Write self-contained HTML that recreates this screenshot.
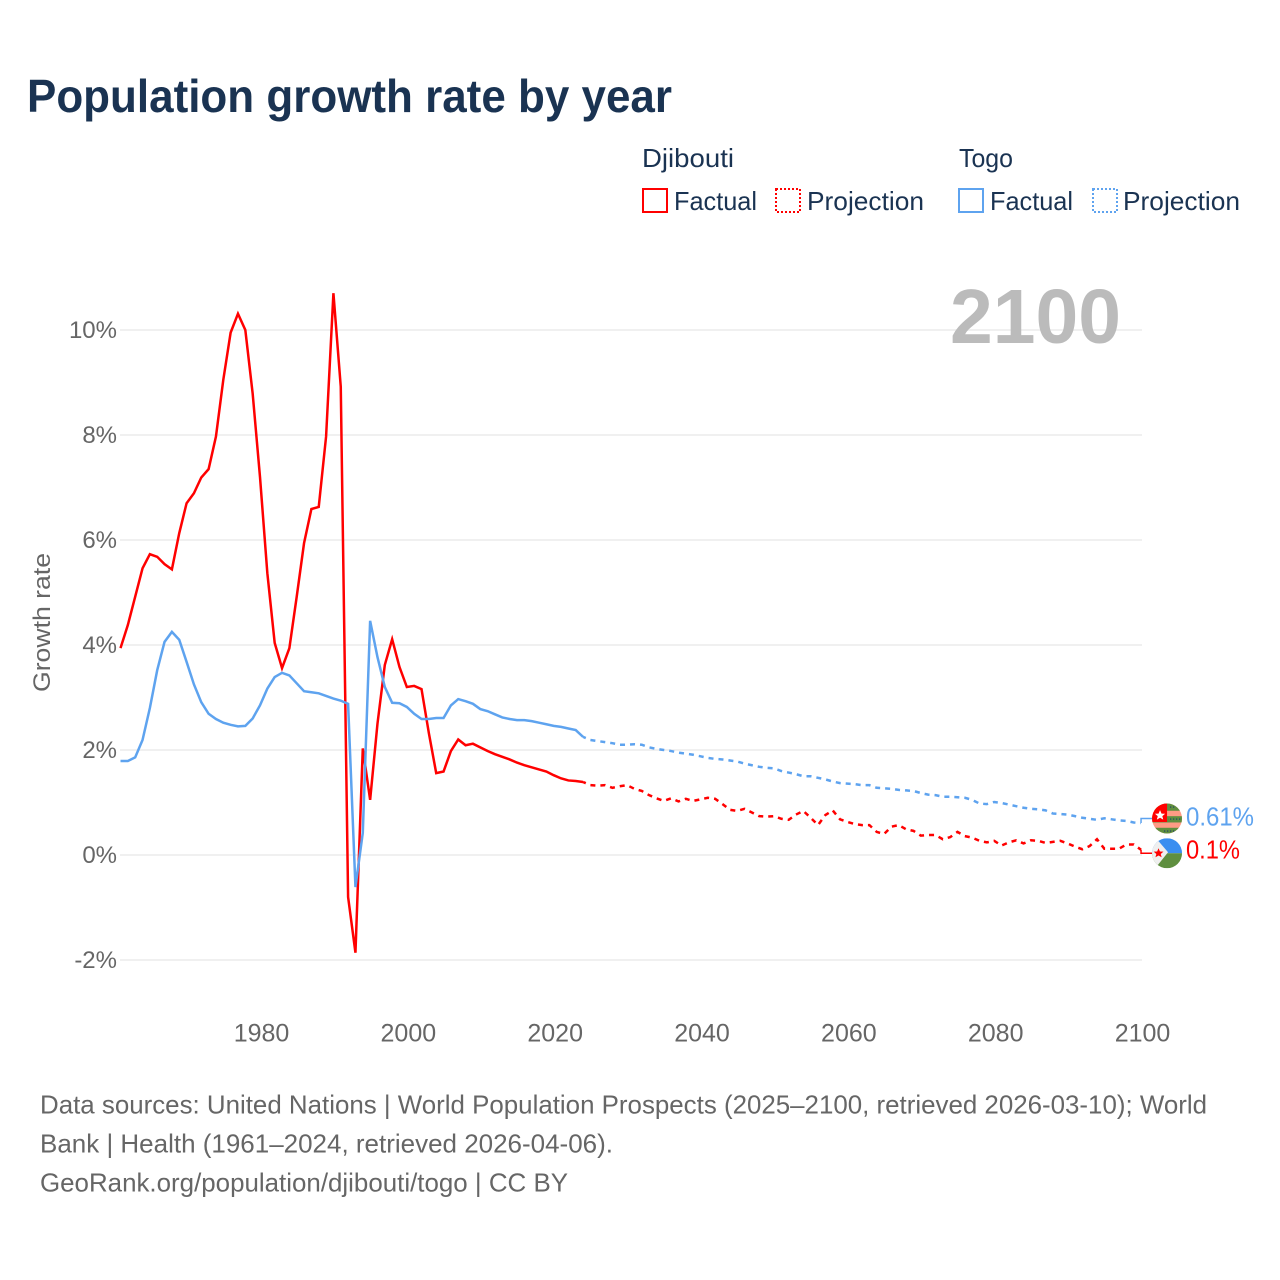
<!DOCTYPE html>
<html lang="en">
<head>
<meta charset="utf-8">
<title>Population growth rate by year</title>
<style>
html,body{margin:0;padding:0;background:#fff;}
svg{display:block;font-family:"Liberation Sans",sans-serif;}
</style>
</head>
<body>
<svg id="chart" xmlns="http://www.w3.org/2000/svg" width="1280" height="1280" viewBox="0 0 1280 1280">
  <rect x="0" y="0" width="1280" height="1280" fill="#ffffff"/>
  <text x="27" y="112" font-size="46" font-weight="700" fill="#1a3352" textLength="645" lengthAdjust="spacingAndGlyphs">Population growth rate by year</text>

  <g>
    <text x="642" y="167" font-size="26" fill="#1a3352" textLength="92" lengthAdjust="spacingAndGlyphs">Djibouti</text>
    <rect x="643" y="189" width="24" height="23" fill="none" stroke="#ff0000" stroke-width="2"/>
    <text x="674" y="210" font-size="26" fill="#1a3352" textLength="83" lengthAdjust="spacingAndGlyphs">Factual</text>
    <rect x="776" y="189" width="24" height="23" fill="none" stroke="#ff0000" stroke-width="2" stroke-dasharray="2 2"/>
    <text x="807" y="210" font-size="26" fill="#1a3352" textLength="117" lengthAdjust="spacingAndGlyphs">Projection</text>
    <text x="959" y="167" font-size="26" fill="#1a3352" textLength="54" lengthAdjust="spacingAndGlyphs">Togo</text>
    <rect x="959" y="189" width="24" height="23" fill="none" stroke="#5ea3ef" stroke-width="2"/>
    <text x="990" y="210" font-size="26" fill="#1a3352" textLength="83" lengthAdjust="spacingAndGlyphs">Factual</text>
    <rect x="1093" y="189" width="24" height="23" fill="none" stroke="#5ea3ef" stroke-width="2" stroke-dasharray="2 2"/>
    <text x="1123" y="210" font-size="26" fill="#1a3352" textLength="117" lengthAdjust="spacingAndGlyphs">Projection</text>
  </g>

  <g id="grid"></g>
  <text x="950" y="343" font-size="77" font-weight="700" fill="#bbbbbb" textLength="171" lengthAdjust="spacingAndGlyphs">2100</text>
  <g id="yTicksGroup"></g>
  <g id="xTicksGroup"></g>
  <text transform="translate(50,692) rotate(-90)" x="0" y="0" font-size="24" fill="#666666" textLength="139" lengthAdjust="spacingAndGlyphs">Growth rate</text>
  <g id="series"></g>

  <defs>
    <clipPath id="flagClip"><circle cx="0" cy="0" r="15"/></clipPath>
    <pattern id="dots" width="3" height="3" patternUnits="userSpaceOnUse">
      <rect width="1.2" height="1.2" fill="#1f3f6a"/>
    </pattern>
  </defs>

  <g id="flagTogo">
    <g clip-path="url(#flagClip)">
      <rect x="-15" y="-15" width="30" height="30" fill="#ff9b85"/>
      <rect x="-15" y="-15" width="30" height="7.3" fill="#5f8f3f"/>
      <rect x="-15" y="-2.3" width="30" height="6.3" fill="#5f8f3f"/>
      <rect x="-15" y="9.3" width="30" height="6" fill="#5f8f3f"/>
      <rect x="1" y="-1.5" width="14" height="4.5" fill="url(#dots)"/>
      <rect x="-4" y="10.5" width="12" height="3" fill="url(#dots)"/>
      <rect x="3" y="-13" width="6" height="4" fill="url(#dots)"/>
      <rect x="-15" y="-15" width="15" height="18.5" fill="#ff0000"/>
      <polygon points="-7,-8.3 -5.5,-4.9 -1.9,-4.7 -4.7,-2.3 -3.8,1.2 -7,-0.7 -10.2,1.2 -9.3,-2.3 -12.1,-4.7 -8.5,-4.9" fill="#ffffff"/>
    </g>
  </g>
  <g id="flagDjibouti">
    <g clip-path="url(#flagClip)">
      <rect x="-15" y="-15" width="30" height="15" fill="#3a8ef0"/>
      <rect x="-15" y="0" width="30" height="15" fill="#5f8f3f"/>
      <polygon points="-15,-17 -11,-15 1,-1 -11,14 -15,17" fill="#efefef"/>
      <polygon points="-8.5,-5 -7.1,-1.8 -3.6,-1.6 -6.3,0.7 -5.4,4 -8.5,2.2 -11.6,4 -10.7,0.7 -13.4,-1.6 -9.9,-1.8" fill="#ff0000"/>
    </g>
  </g>
  <text id="labelTogo" x="1186" y="825" font-size="26" fill="#5ea3ef" textLength="68" lengthAdjust="spacingAndGlyphs"></text>
  <text id="labelDjibouti" x="1186" y="859" font-size="26" fill="#ff0000" textLength="54" lengthAdjust="spacingAndGlyphs"></text>

  <g font-size="26" fill="#666666">
    <text x="40" y="1113.5" textLength="1167" lengthAdjust="spacingAndGlyphs">Data sources: United Nations | World Population Prospects (2025–2100, retrieved 2026-03-10); World</text>
    <text x="40" y="1152.5" textLength="573" lengthAdjust="spacingAndGlyphs">Bank | Health (1961–2024, retrieved 2026-04-06).</text>
    <text x="40" y="1191.5" textLength="528" lengthAdjust="spacingAndGlyphs">GeoRank.org/population/djibouti/togo | CC BY</text>
  </g>
</svg>

<script>
const yTickValues = [-2, 0, 2, 4, 6, 8, 10];
const xTickValues = [1980, 2000, 2020, 2040, 2060, 2080, 2100];

const factualYears = [1961,1962,1963,1964,1965,1966,1967,1968,1969,1970,
  1971,1972,1973,1974,1975,1976,1977,1978,1979,1980,
  1981,1982,1983,1984,1985,1986,1987,1988,1989,1990,
  1991,1992,1993,1994,1995,1996,1997,1998,1999,2000,
  2001,2002,2003,2004,2005,2006,2007,2008,2009,2010,
  2011,2012,2013,2014,2015,2016,2017,2018,2019,2020,
  2021,2022,2023,2024];

const djiboutiFactual = [3.94,4.38,4.92,5.46,5.73,5.68,5.54,5.44,6.13,6.70,
  6.89,7.19,7.35,7.97,9.05,9.95,10.31,10.00,8.79,7.20,
  5.37,4.04,3.56,3.94,4.92,5.94,6.59,6.63,7.97,10.70,
  8.92,-0.80,-1.86,2.03,1.05,2.50,3.62,4.11,3.58,3.20,
  3.22,3.16,2.32,1.56,1.59,1.98,2.20,2.09,2.12,2.05,
  1.98,1.92,1.87,1.82,1.76,1.71,1.67,1.63,1.59,1.52,
  1.46,1.42,1.41,1.39];

const togoFactual = [1.79,1.79,1.86,2.19,2.80,3.52,4.06,4.25,4.10,3.68,
  3.25,2.91,2.69,2.59,2.52,2.48,2.45,2.46,2.60,2.85,
  3.17,3.39,3.47,3.42,3.27,3.12,3.10,3.08,3.03,2.98,
  2.94,2.88,-0.61,0.42,4.46,3.77,3.20,2.90,2.89,2.82,
  2.69,2.59,2.59,2.61,2.61,2.85,2.97,2.93,2.88,2.78,
  2.74,2.68,2.62,2.59,2.57,2.57,2.55,2.52,2.49,2.46,
  2.44,2.41,2.38,2.25];

const projectionYears = [2024,2025,2026,2027,2028,2029,2030,
  2031,2032,2033,2034,2035,2036,2037,2038,2039,2040,
  2041,2042,2043,2044,2045,2046,2047,2048,2049,2050,
  2051,2052,2053,2054,2055,2056,2057,2058,2059,2060,
  2061,2062,2063,2064,2065,2066,2067,2068,2069,2070,
  2071,2072,2073,2074,2075,2076,2077,2078,2079,2080,
  2081,2082,2083,2084,2085,2086,2087,2088,2089,2090,
  2091,2092,2093,2094,2095,2096,2097,2098,2099,2100];

const djiboutiProjection = [1.39,1.33,1.32,1.33,1.28,1.31,1.33,
  1.26,1.22,1.14,1.08,1.03,1.08,1.02,1.07,1.03,1.06,
  1.09,1.07,0.97,0.86,0.84,0.88,0.81,0.74,0.73,0.74,
  0.69,0.67,0.77,0.84,0.71,0.57,0.76,0.85,0.68,0.63,
  0.59,0.57,0.57,0.44,0.40,0.54,0.57,0.49,0.46,0.37,
  0.38,0.38,0.30,0.34,0.44,0.36,0.33,0.27,0.24,0.27,
  0.18,0.24,0.28,0.22,0.28,0.27,0.23,0.25,0.27,0.22,
  0.16,0.11,0.17,0.30,0.12,0.12,0.12,0.20,0.20,0.10];

const togoProjection = [2.25,2.19,2.17,2.15,2.13,2.10,2.10,
  2.11,2.10,2.05,2.02,2.00,1.98,1.95,1.93,1.91,1.88,
  1.85,1.83,1.82,1.80,1.78,1.74,1.71,1.68,1.66,1.65,
  1.60,1.57,1.54,1.50,1.50,1.47,1.44,1.40,1.37,1.36,
  1.35,1.33,1.33,1.28,1.27,1.26,1.24,1.23,1.22,1.18,
  1.15,1.14,1.11,1.11,1.10,1.09,1.05,0.98,0.97,1.01,
  0.99,0.96,0.93,0.90,0.88,0.87,0.85,0.79,0.78,0.77,
  0.74,0.71,0.69,0.67,0.70,0.68,0.66,0.65,0.62,0.61];

const endValueDjibouti = ["0.1%"];
const endValueTogo = ["0.61%"];

const SVGNS = "http://www.w3.org/2000/svg";
function xScale(year){ return 260 + (year - 1980) * 7.342; }
function yScale(v){ return 855 - v * 52.5; }
function pathFrom(years, values){
  return years.map(function(yr, i){
    return (i ? "L" : "M") + xScale(yr).toFixed(2) + " " + yScale(values[i]).toFixed(2);
  }).join(" ");
}

const gridG = document.getElementById("grid");
const yG = document.getElementById("yTicksGroup");
yTickValues.forEach(function(v){
  const line = document.createElementNS(SVGNS, "line");
  
  
  line.setAttribute("x1", 120);
  line.setAttribute("x2", 1142);
  line.setAttribute("y1", yScale(v));
  line.setAttribute("y2", yScale(v));
  line.setAttribute("stroke", "#f0f0f0");
  line.setAttribute("stroke-width", "2");
  gridG.appendChild(line);
  const t = document.createElementNS(SVGNS, "text");
  
  
  t.setAttribute("x", 117);
  t.setAttribute("y", yScale(v) + 8);
  t.setAttribute("text-anchor", "end");
  t.setAttribute("font-size", "24");
  t.setAttribute("fill", "#666666");
  t.textContent = v + "%";
  yG.appendChild(t);
});

const xG = document.getElementById("xTicksGroup");
xTickValues.forEach(function(yr){
  const t = document.createElementNS(SVGNS, "text");
  
  
  t.setAttribute("x", xScale(yr) + 1.5);
  t.setAttribute("y", 1041.5);
  t.setAttribute("text-anchor", "middle");
  t.setAttribute("font-size", "25");
  t.setAttribute("fill", "#666666");
  t.textContent = yr;
  xG.appendChild(t);
});

const seriesG = document.getElementById("series");

const lineDjiboutiProj = document.createElementNS(SVGNS, "path");


lineDjiboutiProj.setAttribute("d", pathFrom(projectionYears, djiboutiProjection));
lineDjiboutiProj.setAttribute("fill", "none");
lineDjiboutiProj.setAttribute("stroke", "#ff0000");
lineDjiboutiProj.setAttribute("stroke-width", "2.5");
lineDjiboutiProj.setAttribute("stroke-dasharray", "5 5");
lineDjiboutiProj.setAttribute("stroke-dashoffset", "2");
seriesG.appendChild(lineDjiboutiProj);

const lineTogoProj = document.createElementNS(SVGNS, "path");


lineTogoProj.setAttribute("d", pathFrom(projectionYears, togoProjection));
lineTogoProj.setAttribute("fill", "none");
lineTogoProj.setAttribute("stroke", "#5ea3ef");
lineTogoProj.setAttribute("stroke-width", "2.5");
lineTogoProj.setAttribute("stroke-dasharray", "5 5");
lineTogoProj.setAttribute("stroke-dashoffset", "2");
seriesG.appendChild(lineTogoProj);

const lineDjibouti = document.createElementNS(SVGNS, "path");


lineDjibouti.setAttribute("d", pathFrom(factualYears, djiboutiFactual));
lineDjibouti.setAttribute("fill", "none");
lineDjibouti.setAttribute("stroke", "#ff0000");
lineDjibouti.setAttribute("stroke-width", "2.5");
lineDjibouti.setAttribute("stroke-linejoin", "miter");
seriesG.appendChild(lineDjibouti);

const lineTogo = document.createElementNS(SVGNS, "path");


lineTogo.setAttribute("d", pathFrom(factualYears, togoFactual));
lineTogo.setAttribute("fill", "none");
lineTogo.setAttribute("stroke", "#5ea3ef");
lineTogo.setAttribute("stroke-width", "2.5");
lineTogo.setAttribute("stroke-linejoin", "miter");
seriesG.appendChild(lineTogo);

const lastYear = projectionYears[projectionYears.length - 1];
const endX = xScale(lastYear);
const togoEndY = yScale(togoProjection[togoProjection.length - 1]);
const djiboutiEndY = yScale(djiboutiProjection[djiboutiProjection.length - 1]);
const togoFlagY = togoEndY - 4.5;
const djiboutiFlagY = djiboutiEndY + 3.5;

const leaderTogo = document.createElementNS(SVGNS, "path");


leaderTogo.setAttribute("d", "M" + endX + " " + togoEndY + " V" + togoFlagY + " H" + (endX + 15));
leaderTogo.setAttribute("fill", "none");
leaderTogo.setAttribute("stroke", "#5ea3ef");
leaderTogo.setAttribute("stroke-width", "1.5");
seriesG.appendChild(leaderTogo);

const leaderDjibouti = document.createElementNS(SVGNS, "path");


leaderDjibouti.setAttribute("d", "M" + endX + " " + djiboutiEndY + " V" + djiboutiFlagY + " H" + (endX + 15));
leaderDjibouti.setAttribute("fill", "none");
leaderDjibouti.setAttribute("stroke", "#ff0000");
leaderDjibouti.setAttribute("stroke-width", "1.5");
seriesG.appendChild(leaderDjibouti);

document.getElementById("flagTogo").setAttribute("transform", "translate(" + (endX + 26) + "," + togoFlagY + ")");
document.getElementById("flagDjibouti").setAttribute("transform", "translate(" + (endX + 26) + "," + djiboutiFlagY + ")");

const labelTogo = document.getElementById("labelTogo");
labelTogo.textContent = endValueTogo[0];
labelTogo.setAttribute("y", togoFlagY + 7);
const labelDjibouti = document.getElementById("labelDjibouti");
labelDjibouti.textContent = endValueDjibouti[0];
labelDjibouti.setAttribute("y", djiboutiFlagY + 5);
</script>
</body>
</html>
